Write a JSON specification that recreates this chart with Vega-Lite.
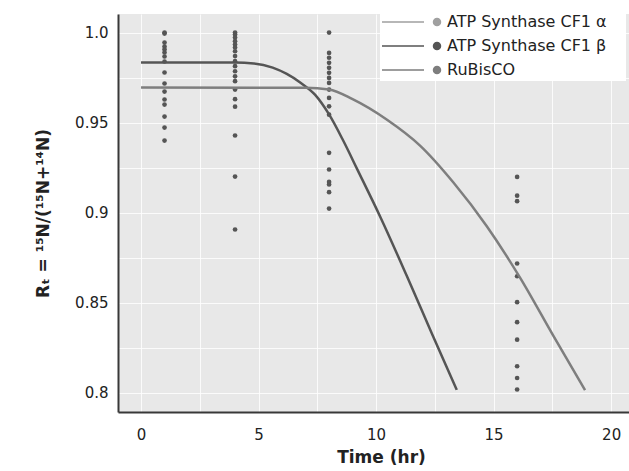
{
  "$schema": "https://vega.github.io/schema/vega-lite/v6.json",
  "width": 511,
  "height": 398,
  "autosize": {"type": "none"},
  "padding": {"left": 118, "top": 14, "right": 0, "bottom": 59},
  "background": "white",
  "config": {"view": {"fill": "#e8e8e8", "stroke": null}, "font": "DejaVu Sans"},
  "datasets": {
    "dots": [
      {"t": 1, "R": 1.0}, {"t": 1, "R": 0.9994}, {"t": 1, "R": 0.9944}, {"t": 1, "R": 0.9922},
      {"t": 1, "R": 0.9906}, {"t": 1, "R": 0.9889}, {"t": 1, "R": 0.9867}, {"t": 1, "R": 0.9839},
      {"t": 1, "R": 0.9778}, {"t": 1, "R": 0.9717}, {"t": 1, "R": 0.9672}, {"t": 1, "R": 0.9628},
      {"t": 1, "R": 0.96}, {"t": 1, "R": 0.9533}, {"t": 1, "R": 0.9472}, {"t": 1, "R": 0.94},
      {"t": 4, "R": 1.0}, {"t": 4, "R": 0.9989}, {"t": 4, "R": 0.9972}, {"t": 4, "R": 0.9952},
      {"t": 4, "R": 0.9933}, {"t": 4, "R": 0.9917}, {"t": 4, "R": 0.9896}, {"t": 4, "R": 0.9869},
      {"t": 4, "R": 0.9841}, {"t": 4, "R": 0.9813}, {"t": 4, "R": 0.9785}, {"t": 4, "R": 0.9757},
      {"t": 4, "R": 0.973}, {"t": 4, "R": 0.9683}, {"t": 4, "R": 0.963}, {"t": 4, "R": 0.9588},
      {"t": 4, "R": 0.9428}, {"t": 4, "R": 0.92}, {"t": 4, "R": 0.8906},
      {"t": 8, "R": 1.0}, {"t": 8, "R": 0.9887}, {"t": 8, "R": 0.986}, {"t": 8, "R": 0.9832},
      {"t": 8, "R": 0.9804}, {"t": 8, "R": 0.9776}, {"t": 8, "R": 0.9748}, {"t": 8, "R": 0.972},
      {"t": 8, "R": 0.9683}, {"t": 8, "R": 0.9637}, {"t": 8, "R": 0.959}, {"t": 8, "R": 0.9544},
      {"t": 8, "R": 0.9332}, {"t": 8, "R": 0.9239}, {"t": 8, "R": 0.917}, {"t": 8, "R": 0.9156},
      {"t": 8, "R": 0.9113}, {"t": 8, "R": 0.9022},
      {"t": 16, "R": 0.9198}, {"t": 16, "R": 0.9094}, {"t": 16, "R": 0.9063}, {"t": 16, "R": 0.8717},
      {"t": 16, "R": 0.8646}, {"t": 16, "R": 0.8502}, {"t": 16, "R": 0.8391}, {"t": 16, "R": 0.8294},
      {"t": 16, "R": 0.8146}, {"t": 16, "R": 0.8081}, {"t": 16, "R": 0.8017}
    ],
    "curves": [
      {"protein": "ATP Synthase CF1 β", "t": 0, "R": 0.9833},
      {"protein": "ATP Synthase CF1 β", "t": 4, "R": 0.9833},
      {"protein": "ATP Synthase CF1 β", "t": 4.8, "R": 0.9828},
      {"protein": "ATP Synthase CF1 β", "t": 5.6, "R": 0.9805},
      {"protein": "ATP Synthase CF1 β", "t": 6.2, "R": 0.977},
      {"protein": "ATP Synthase CF1 β", "t": 6.8, "R": 0.972},
      {"protein": "ATP Synthase CF1 β", "t": 7.4, "R": 0.9655},
      {"protein": "ATP Synthase CF1 β", "t": 8.0, "R": 0.9545},
      {"protein": "ATP Synthase CF1 β", "t": 8.6, "R": 0.940},
      {"protein": "ATP Synthase CF1 β", "t": 9.2, "R": 0.924},
      {"protein": "ATP Synthase CF1 β", "t": 10.2, "R": 0.897},
      {"protein": "ATP Synthase CF1 β", "t": 11.3, "R": 0.865},
      {"protein": "ATP Synthase CF1 β", "t": 12.4, "R": 0.832},
      {"protein": "ATP Synthase CF1 β", "t": 13.43, "R": 0.8015},
      {"protein": "RuBisCO", "t": 0, "R": 0.9694},
      {"protein": "RuBisCO", "t": 7, "R": 0.9693},
      {"protein": "RuBisCO", "t": 8, "R": 0.9684},
      {"protein": "RuBisCO", "t": 9, "R": 0.963},
      {"protein": "RuBisCO", "t": 10.45, "R": 0.9517},
      {"protein": "RuBisCO", "t": 11.87, "R": 0.9372},
      {"protein": "RuBisCO", "t": 13.29, "R": 0.9167},
      {"protein": "RuBisCO", "t": 14.71, "R": 0.8924},
      {"protein": "RuBisCO", "t": 16.13, "R": 0.8637},
      {"protein": "RuBisCO", "t": 17.55, "R": 0.8313},
      {"protein": "RuBisCO", "t": 18.89, "R": 0.8013}
    ]
  },
  "layer": [
    {
      "data": {"name": "dots"},
      "mark": {"type": "circle", "size": 22, "color": "#555555", "opacity": 1},
      "encoding": {
        "x": {
          "field": "t", "type": "quantitative",
          "scale": {"domain": [-0.98, 20.76], "nice": false, "zero": false},
          "axis": {
            "values": [0, 2.5, 5, 7.5, 10, 12.5, 15, 17.5, 20],
            "labelExpr": "datum.value % 5 == 0 ? datum.label : ''",
            "labelOverlap": false,
            "labelFontSize": 15, "labelColor": "#222222", "labelPadding": 15,
            "ticks": false,
            "domainColor": "#383838", "domainWidth": 2,
            "grid": true, "gridColor": "#ffffff", "gridWidth": 1, "gridOpacity": 0.8,
            "title": "Time (hr)", "titleFontSize": 17, "titleFontWeight": "bold",
            "titleColor": "#222222", "titlePadding": 7, "titleX": 263
          }
        },
        "y": {
          "field": "R", "type": "quantitative",
          "scale": {"domain": [0.7892, 1.0103], "nice": false, "zero": false},
          "axis": {
            "values": [0.8, 0.825, 0.85, 0.875, 0.9, 0.925, 0.95, 0.975, 1.0],
            "labelExpr": "abs(datum.value - 1) < 0.001 ? '1.0' : (abs(round(datum.value * 20) - datum.value * 20) < 0.01 ? toString(round(datum.value * 100) / 100) : '')",
            "labelOverlap": false,
            "labelFontSize": 15, "labelColor": "#222222", "labelPadding": 10,
            "ticks": false,
            "domainColor": "#383838", "domainWidth": 2,
            "grid": true, "gridColor": "#ffffff", "gridWidth": 1, "gridOpacity": 0.8,
            "title": "Rₜ = ¹⁵N/(¹⁵N+¹⁴N)", "titleFontSize": 17, "titleFontWeight": "bold",
            "titleColor": "#222222", "titlePadding": 22
          }
        }
      }
    },
    {
      "data": {"name": "curves"},
      "mark": {"type": "line", "strokeWidth": 2.5, "interpolate": "monotone"},
      "encoding": {
        "x": {"field": "t", "type": "quantitative"},
        "y": {"field": "R", "type": "quantitative"},
        "color": {
          "field": "protein", "type": "nominal",
          "scale": {
            "domain": ["ATP Synthase CF1 α", "ATP Synthase CF1 β", "RuBisCO"],
            "range": ["#a0a0a0", "#555555", "#7e7e7e"]
          },
          "legend": {
            "orient": "none", "legendX": 262, "legendY": -3,
            "title": "M",
            "titleOrient": "right", "titleFontSize": 14, "titlePadding": 2, "titleOpacity": 0,
            "fillColor": "#ffffff", "padding": 3, "strokeColor": null,
            "symbolType": "M-1.8,0L6.6,0M9.9,0A0.7,0.7,0,1,1,8.5,0A0.7,0.7,0,1,1,9.9,0",
            "symbolSize": 100, "symbolStrokeWidth": 1.5,
            "labelFont": "DejaVu Sans", "labelFontSize": 16, "labelColor": "#222222",
            "labelOffset": 48, "rowPadding": 8, "labelLimit": 400,
            "encode": {
              "symbols": {
                "update": {
                  "fill": {"scale": "color", "field": "value"},
                  "stroke": {"value": "#8c8c8c"},
                  "opacity": {"value": 1}
                }
              }
            }
          }
        }
      }
    }
  ]
}
